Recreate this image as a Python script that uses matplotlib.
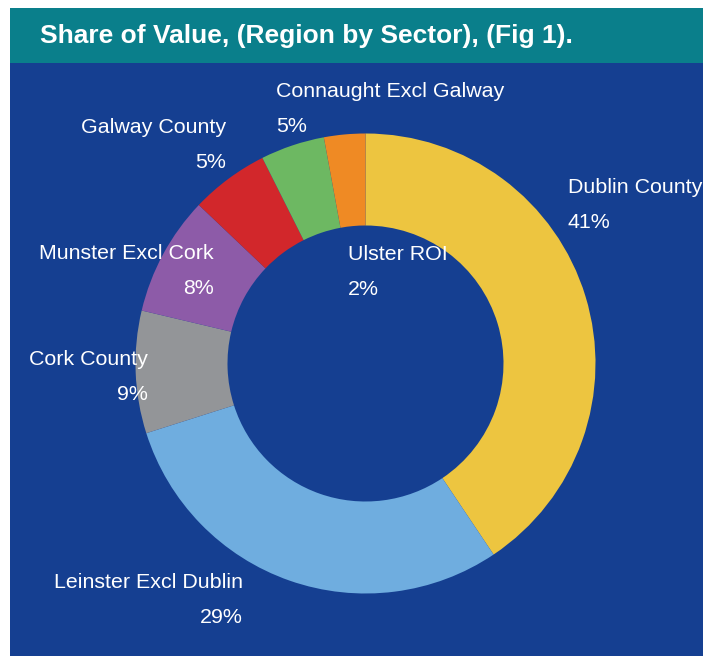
import matplotlib.pyplot as plt
from matplotlib.patches import Rectangle

plt.rcParams['font.family'] = ['Liberation Sans', 'DejaVu Sans']

regions = ["Dublin County", "Leinster Excl Dublin", "Cork County", "Munster Excl Cork",
           "Galway County", "Connaught Excl Galway", "Ulster ROI"]
shares = [40.6, 29.5, 8.6, 8.4, 5.5, 4.5, 2.9]
pct_labels = [41, 29, 9, 8, 5, 5, 2]
colors = ["#EDC540", "#6FADDF", "#939598", "#8D5BA8", "#D2272B", "#6DB862", "#EF8A24"]

W, H = 703, 656
fig = plt.figure(figsize=(W / 100, H / 100), dpi=100)
fig.patch.set_facecolor("white")

# background panels (pixel coords -> figure fractions)
fig.patches.append(Rectangle((10 / W, 0), 1, (H - 63) / H, transform=fig.transFigure,
                             facecolor="#153F91", edgecolor="none", zorder=-2))
fig.patches.append(Rectangle((10 / W, (H - 63) / H), 1, 55 / H, transform=fig.transFigure,
                             facecolor="#0A7F8B", edgecolor="none", zorder=-2))
fig.text(40 / W, 1 - 36 / H, "Share of Value, (Region by Sector), (Fig 1).",
         color="white", fontsize=19, fontweight="bold", va="center", ha="left")

cx, cy, r = 365.5, 363.5, 230
ax = fig.add_axes([(cx - r) / W, (H - cy - r) / H, 2 * r / W, 2 * r / H])
ax.set_zorder(1)
ax.pie(shares, colors=colors, startangle=90, counterclock=False, radius=1,
       wedgeprops=dict(width=0.4, edgecolor="none"))
ax.set_xlim(-1, 1)
ax.set_ylim(-1, 1)
ax.set_aspect("equal")
ax.axis("off")

# label placement in pixels: (x, baseline y of name, alignment)
label_pos = {
    "Dublin County": (568, 193, "left"),
    "Leinster Excl Dublin": (243, 588, "right"),
    "Cork County": (148, 365, "right"),
    "Munster Excl Cork": (214, 259, "right"),
    "Galway County": (226, 133, "right"),
    "Connaught Excl Galway": (276, 97, "left"),
    "Ulster ROI": (348, 260, "left"),
}
for name, val in zip(regions, pct_labels):
    x, y, ha = label_pos[name]
    fig.text(x / W, 1 - y / H, name, color="white", fontsize=15.4, ha=ha, va="baseline", zorder=3)
    fig.text(x / W, 1 - (y + 35) / H, f"{val}%", color="white", fontsize=15.4, ha=ha,
             va="baseline", zorder=3)

fig.savefig("out.png", dpi=100)
